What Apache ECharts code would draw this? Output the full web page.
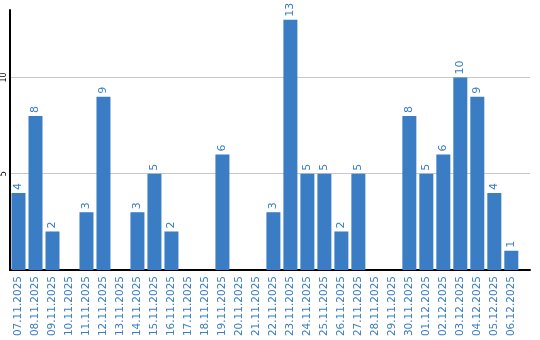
<!DOCTYPE html>
<html>
<head>
<meta charset="utf-8">
<script src="https://cdn.jsdelivr.net/npm/echarts@6/dist/echarts.min.js"></script>
<style>html,body{margin:0;padding:0;background:#fff}#c{width:540px;height:340px}</style>
</head>
<body>
<div id="c"></div>
<script>
var categories = ["07.11.2025","08.11.2025","09.11.2025","10.11.2025","11.11.2025","12.11.2025","13.11.2025","14.11.2025","15.11.2025","16.11.2025","17.11.2025","18.11.2025","19.11.2025","20.11.2025","21.11.2025","22.11.2025","23.11.2025","24.11.2025","25.11.2025","26.11.2025","27.11.2025","28.11.2025","29.11.2025","30.11.2025","01.12.2025","02.12.2025","03.12.2025","04.12.2025","05.12.2025","06.12.2025"];
var values = [4,8,2,0,3,9,0,3,5,2,0,0,6,0,0,3,13,5,5,2,5,0,0,8,5,6,10,9,4,1];
var yTicks = [5, 10];

var blue = '#3a7dc4';
// category i sits at x = 2i+1 on a value axis (half-steps), leaving room at the right end
var data = values.map(function (v, i) {
  var d = {value: [2 * i + 1, v]};
  if (v === 0) d.label = {show: false};
  return d;
});
var chart = echarts.init(document.getElementById('c'), null, {renderer: 'canvas'});
chart.setOption({
  animation: false,
  grid: {left: 10, right: 10, top: 10, bottom: 70, containLabel: false},
  xAxis: {
    type: 'value',
    min: 0,
    max: 61.2,
    interval: 1,
    axisLine: {show: true, onZero: false, lineStyle: {color: '#000', width: 2}},
    axisTick: {show: false},
    splitLine: {show: false},
    axisLabel: {
      rotate: 90, color: blue, fontSize: 10.5, fontFamily: 'DejaVu Sans', margin: 6,
      showMinLabel: true, showMaxLabel: true,
      formatter: function (v) {
        if (v % 2 !== 1) return '';
        var i = (v - 1) / 2;
        return categories[i] || '';
      }
    }
  },
  yAxis: {
    type: 'value',
    min: 0,
    max: 13.5,
    interval: 5,
    axisLine: {show: true, onZero: false, lineStyle: {color: '#000', width: 2}},
    axisTick: {show: false},
    splitLine: {show: true, showMinLine: false, showMaxLine: false, lineStyle: {color: '#c8c8c8', width: 1}},
    axisLabel: {
      rotate: 90, color: '#000', fontSize: 8, fontFamily: 'DejaVu Sans', margin: 2,
      formatter: function (v) { return yTicks.indexOf(v) >= 0 ? String(v) : ''; }
    }
  },
  series: [{
    type: 'bar',
    data: data,
    itemStyle: {color: blue},
    barWidth: 14,
    label: {
      show: true, position: 'top', rotate: 90, align: 'left', verticalAlign: 'middle',
      distance: 3, color: blue, fontSize: 11, fontFamily: 'DejaVu Sans'
    }
  }]
});
</script>
</body>
</html>
